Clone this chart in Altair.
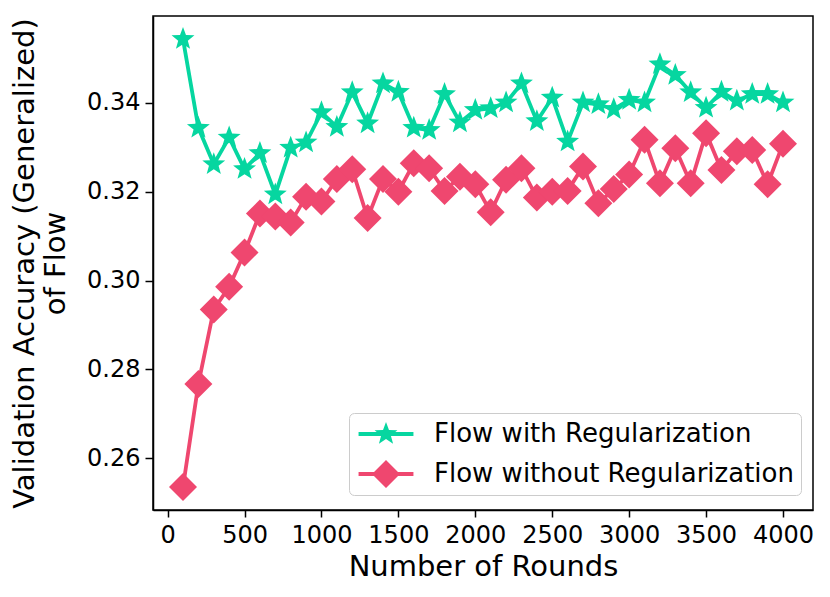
import math
import altair as alt
import pandas as pd

rounds = [100, 200, 300, 400, 500, 600, 700, 800, 900, 1000,
          1100, 1200, 1300, 1400, 1500, 1600, 1700, 1800, 1900, 2000,
          2100, 2200, 2300, 2400, 2500, 2600, 2700, 2800, 2900, 3000,
          3100, 3200, 3300, 3400, 3500, 3600, 3700, 3800, 3900, 4000]

with_reg = [0.3544, 0.3344, 0.3262, 0.3322, 0.3251, 0.3287, 0.3194, 0.3299, 0.3311, 0.3379,
            0.3346, 0.3424, 0.3354, 0.3444, 0.3425, 0.3344, 0.3339, 0.3420, 0.3356, 0.3384,
            0.3388, 0.3401, 0.3444, 0.3359, 0.3412, 0.3313, 0.3401, 0.3397, 0.3386, 0.3407,
            0.3401, 0.3487, 0.3463, 0.3424, 0.3389, 0.3425, 0.3405, 0.3420, 0.3420, 0.3401]

without_reg = [0.2535, 0.2767, 0.2935, 0.2986, 0.3063, 0.3151, 0.3144, 0.3131, 0.3189, 0.3178,
               0.3229, 0.3251, 0.3141, 0.3229, 0.3200, 0.3264, 0.3253, 0.3202, 0.3234, 0.3217,
               0.3154, 0.3227, 0.3253, 0.3187, 0.3200, 0.3202, 0.3257, 0.3174, 0.3206, 0.3239,
               0.3317, 0.3219, 0.3298, 0.3219, 0.3332, 0.3249, 0.3291, 0.3294, 0.3217, 0.3308]

series_names = ["Flow with Regularization", "Flow without Regularization"]
colors = ["#06d6a0", "#ef476f"]

x_ticks = [0, 500, 1000, 1500, 2000, 2500, 3000, 3500, 4000]
y_ticks = [0.26, 0.28, 0.30, 0.32, 0.34]

rows = []
for r, a, b in zip(rounds, with_reg, without_reg):
    rows.append({"rounds": r, "acc": a, "series": series_names[0]})
    rows.append({"rounds": r, "acc": b, "series": series_names[1]})
df = pd.DataFrame(rows)


def star_path(R, inner=0.382):
    pts = []
    for i in range(10):
        ang = math.radians(-90 + 36 * i)
        rr = R if i % 2 == 0 else R * inner
        pts.append(f"{rr * math.cos(ang):.4f},{rr * math.sin(ang):.4f}")
    return "M" + " L".join(pts) + " Z"


STAR = star_path(0.86, 0.42)
DIAMOND = "M0,-1 L1,0 L0,1 L-1,0 Z"
LINE = "M-1.96,-0.14 L1.96,-0.14 L1.96,0.14 L-1.96,0.14 Z"
LEG_STAR = LINE + " " + star_path(0.86, 0.42)
LEG_DIAMOND = LINE + " " + DIAMOND

font = "DejaVu Sans"

x_enc = alt.X("rounds:Q",
              scale=alt.Scale(domain=[-95, 4195], nice=False, zero=False),
              axis=alt.Axis(values=x_ticks, format="d", title="Number of Rounds",
                            labelFontSize=24, titleFontSize=29, labelPadding=6,
                            titlePadding=5, tickSize=7, tickWidth=1.5, grid=False,
                            labelFlush=False))
y_enc = alt.Y("acc:Q",
              scale=alt.Scale(domain=[0.2483, 0.3596], nice=False, zero=False),
              axis=alt.Axis(values=y_ticks, format=".2f",
                            title=["Validation Accuracy (Generalized)", "of Flow"],
                            labelFontSize=24, titleFontSize=29, titleLineHeight=31,
                            titleLimit=900,
                            labelPadding=5, titlePadding=16, tickSize=8, tickWidth=1.5,
                            grid=False, labelFlush=False))

color_scale = alt.Scale(domain=series_names, range=colors)

lines = alt.Chart(df).mark_line(strokeWidth=3.8).encode(
    x=x_enc, y=y_enc,
    color=alt.Color("series:N", scale=color_scale, legend=None),
    detail="series:N",
)

points = alt.Chart(df).mark_point(filled=True, size=784, opacity=1, strokeWidth=0).encode(
    x=x_enc, y=y_enc,
    color=alt.Color("series:N", scale=color_scale, legend=None),
    shape=alt.Shape("series:N", scale=alt.Scale(domain=series_names, range=[STAR, DIAMOND]),
                    legend=None),
)

legend_args = dict(title=None, orient="none", legendX=196, legendY=397,
                   direction="vertical", labelFontSize=26, labelFont=font,
                   labelColor="black", labelLimit=800, symbolSize=784, symbolOffset=16,
                   labelOffset=34, padding=7, rowPadding=13, strokeColor="#cccccc",
                   fillColor="rgba(255,255,255,0.8)", cornerRadius=5,
                   symbolStrokeWidth=0, symbolOpacity=1)

legend_layer = alt.Chart(df).transform_filter("datum.acc < 0").mark_point(
    filled=True, size=784, opacity=1, strokeWidth=0
).encode(
    x=x_enc, y=y_enc,
    fill=alt.Fill("series:N", scale=alt.Scale(domain=series_names, range=colors),
                  legend=alt.Legend(**legend_args)),
    shape=alt.Shape("series:N",
                    scale=alt.Scale(domain=series_names, range=[LEG_STAR, LEG_DIAMOND]),
                    legend=alt.Legend(**legend_args)),
)

chart = alt.layer(lines, points, legend_layer).resolve_scale(
    shape="independent", fill="independent"
).properties(
    width=660, height=494,
    autosize=alt.AutoSizeParams(type="none"),
    padding={"left": 145, "top": 8, "right": 8, "bottom": 77},
).configure_view(
    stroke="black", strokeWidth=1.5
).configure_axis(
    labelFont=font, titleFont=font, labelColor="black", titleColor="black",
    domainColor="black", domainWidth=1.5, tickColor="black", titleFontWeight="normal"
)

chart.save("out.html", embed_options={"renderer": "svg", "actions": False})
